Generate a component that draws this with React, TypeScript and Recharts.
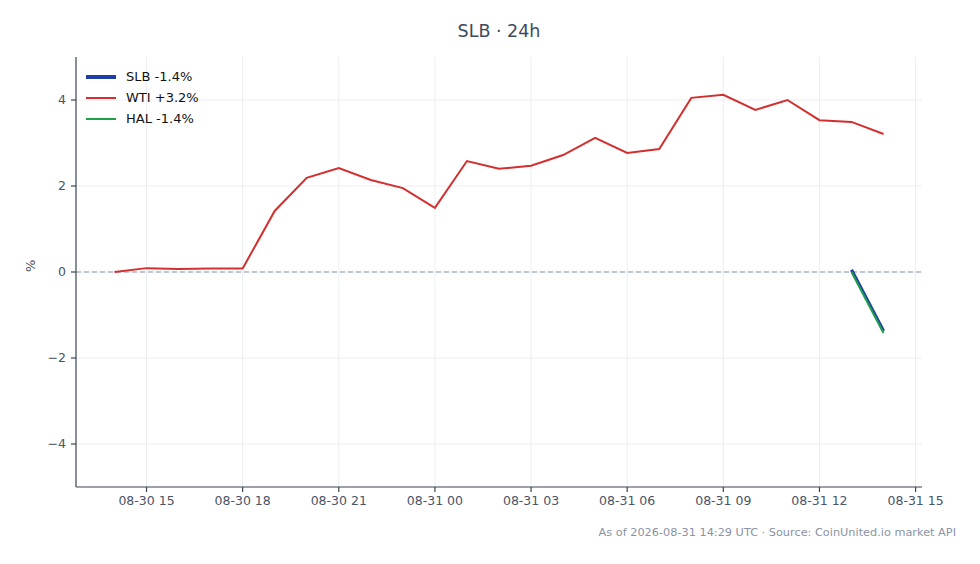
import { CartesianGrid, Line, LineChart, ReferenceLine, XAxis, YAxis } from 'recharts'

// hours since 08-30 00:00 UTC
const hours = [14, 15, 16, 17, 18, 19, 20, 21, 22, 23, 24, 25, 26, 27, 28, 29, 30, 31, 32, 33, 34, 35, 36, 37, 38]
const wti = [
  0, 0.09, 0.07, 0.08, 0.08, 1.42, 2.19, 2.42, 2.14, 1.95, 1.49, 2.58, 2.4, 2.47, 2.72, 3.12, 2.77, 2.86, 4.05,
  4.12, 3.77, 4.0, 3.53, 3.49, 3.21,
]
const slbHours = [37, 38]
const slb = [0.05, -1.37]
const halHours = [37, 38]
const hal = [0, -1.42]

const xTicks = [15, 18, 21, 24, 27, 30, 33, 36, 39]
const yTicks = [-4, -2, 0, 2, 4]

const legendItems = [
  { label: 'SLB -1.4%', color: '#1f3fa6', width: 4 },
  { label: 'WTI +3.2%', color: '#d62f2f', width: 2 },
  { label: 'HAL -1.4%', color: '#1fa04a', width: 2 },
]

const rows = hours.map((t, i) => {
  const si = slbHours.indexOf(t)
  const hi = halHours.indexOf(t)
  return {
    t,
    wti: wti[i],
    slb: si >= 0 ? slb[si] : null,
    hal: hi >= 0 ? hal[hi] : null,
  }
})

const FONT = '"DejaVu Sans", sans-serif'
const INK = '#4a5466'

const fmtX = (t: number) => {
  const day = t < 24 ? '08-30' : '08-31'
  const h = t % 24
  return `${day} ${h < 10 ? '0' + h : h}`
}
const fmtY = (v: number) => (v < 0 ? '\u2212' + Math.abs(v) : String(v))

export default function App() {
  return (
    <div style={{ position: 'absolute', left: 0, top: 0, width: 980, height: 564, background: '#fff', fontFamily: FONT }}>
      <div
        style={{
          position: 'absolute',
          left: 76,
          width: 846,
          top: 21,
          textAlign: 'center',
          fontSize: 17.5,
          color: '#3e4a5c',
        }}
      >
        SLB · 24h
      </div>
      <LineChart width={980} height={564} data={rows} margin={{ top: 57, right: 58, bottom: 47, left: 20 }}>
        <CartesianGrid stroke="#e8eaee" strokeWidth={0.8} horizontalValues={yTicks} verticalValues={xTicks} />
        <XAxis
          dataKey="t"
          type="number"
          domain={[12.8, 39.2]}
          ticks={xTicks}
          tickFormatter={fmtX}
          allowDataOverflow
          height={30}
          stroke="#3a4352"
          strokeWidth={1.2}
          tickSize={5}
          tickMargin={4}
          tick={{ fill: INK, fontSize: 12.5, fontFamily: FONT }}
        />
        <YAxis
          type="number"
          domain={[-5, 5]}
          ticks={yTicks}
          tickFormatter={fmtY}
          allowDataOverflow
          width={56}
          stroke="#3a4352"
          strokeWidth={1.2}
          tickSize={5}
          tickMargin={5}
          tick={{ fill: INK, fontSize: 12.5, fontFamily: FONT }}
          label={{
            value: '%',
            angle: -90,
            position: 'insideLeft',
            offset: 10,
            style: { fill: INK, fontSize: 13, fontFamily: FONT },
          }}
        />
        <ReferenceLine y={0} stroke="#8c97ab" strokeDasharray="5 3" strokeWidth={1} />
        <Line
          dataKey="wti"
          stroke="#d42f2f"
          strokeWidth={2}
          dot={false}
          isAnimationActive={false}
        />
        <Line
          dataKey="slb"
          stroke="#1f3fa6"
          strokeWidth={3.2}
          dot={false}
          connectNulls={false}
          isAnimationActive={false}
        />
        <Line
          dataKey="hal"
          stroke="#1fa04a"
          strokeWidth={2}
          dot={false}
          connectNulls={false}
          isAnimationActive={false}
        />
      </LineChart>
      <div style={{ position: 'absolute', left: 86, top: 66 }}>
        {legendItems.map((item) => (
          <div key={item.label} style={{ display: 'flex', alignItems: 'center', height: 21 }}>
            <div style={{ width: 30, height: item.width, background: item.color, marginRight: 10 }} />
            <span style={{ fontSize: 13, color: '#111' }}>{item.label}</span>
          </div>
        ))}
      </div>
      <div
        style={{
          position: 'absolute',
          right: 24,
          top: 526,
          fontSize: 11.3,
          color: '#8a93a3',
          whiteSpace: 'nowrap',
        }}
      >
        As of 2026-08-31 14:29 UTC · Source: CoinUnited.io market API
      </div>
    </div>
  )
}
